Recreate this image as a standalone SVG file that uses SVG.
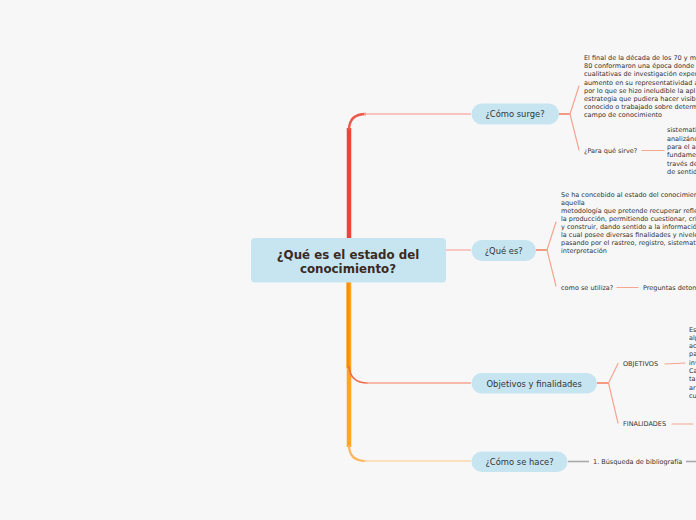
<svg xmlns="http://www.w3.org/2000/svg" width="696" height="520" viewBox="0 0 696 520">
<style>
.bg{fill:#f7f7f7}
.main{fill:#c6e5f1}
.pill{fill:#c6e5f1}
.mt{font-family:"DejaVu Sans",Verdana,sans-serif;font-weight:bold;font-size:11.8px;fill:#3a2a1f;text-anchor:middle}
.st{font-family:"DejaVu Sans",Verdana,sans-serif;font-size:8.4px;fill:#333;text-anchor:middle}
.sm{font-family:"DejaVu Sans",Verdana,sans-serif;font-size:6.5px;fill:#333}
.ln{fill:none;stroke:#f6a591;stroke-width:1.2;stroke-linecap:round}
.stub{fill:none;stroke:#f29a82;stroke-width:2}
.gr{fill:none;stroke:#a9a9a9;stroke-width:1.6}
</style>
<rect class="bg" x="0" y="0" width="696" height="520"/>
<g id="connectors">
  <!-- red stem to ¿Cómo surge? -->
  <path d="M349 238 V128" fill="none" stroke="#e8453c" stroke-width="4.5"/>
  <path d="M349 130 Q349 114 366 114" fill="none" stroke="#ec5a4c" stroke-width="2.5"/>
  <path d="M364 114 H471" fill="none" stroke="#f8b5ab" stroke-width="1.4"/>
  <!-- ¿Qué es? -->
  <path d="M445 250 H471" fill="none" stroke="#f8b5ab" stroke-width="1.4"/>
  <!-- light orange stem to ¿Cómo se hace? -->
  <path d="M349 282 V447" fill="none" stroke="#ffa526" stroke-width="4.5"/>
  <path d="M349 445 Q349 461 366 461" fill="none" stroke="#fdb45a" stroke-width="2.2"/>
  <path d="M364 461 H471" fill="none" stroke="#fcd9aa" stroke-width="1.4"/>
  <!-- dark orange stem to Objetivos -->
  <path d="M348 282 V368" fill="none" stroke="#ff8c00" stroke-width="3"/>
  <path d="M349 366 Q350 383 368 383" fill="none" stroke="#f06a48" stroke-width="1.6"/>
  <path d="M366 383 H471" fill="none" stroke="#f6a591" stroke-width="1.4"/>
  <!-- ¿Cómo surge? children -->
  <path class="stub" d="M559 114 H570"/>
  <path class="ln" d="M570 114 L579 86"/>
  <path class="ln" d="M570 114 L579 150"/>
  <path class="ln" d="M642 150.5 H664"/>
  <!-- ¿Qué es? children -->
  <path class="stub" d="M536 250 H547"/>
  <path class="ln" d="M547 250 L556 222"/>
  <path class="ln" d="M547 250 L556 286"/>
  <path class="ln" d="M617 287.5 H638"/>
  <!-- Objetivos children -->
  <path class="stub" d="M597 383 H608.5"/>
  <path class="ln" d="M608.5 383 L618 363.5"/>
  <path class="ln" d="M608.5 383 L618 423"/>
  <path class="ln" d="M665 364 L685 363"/>
  <path class="ln" d="M672 424 H693"/>
  <!-- ¿Cómo se hace? children -->
  <path class="gr" d="M568 461.5 H589"/>
  <path class="gr" d="M686 461.5 H696"/>
</g>
<g id="central">
  <rect class="main" x="251" y="238" width="195" height="44.5" rx="4"/>
  <text class="mt" x="348" y="258.5">¿Qué es el estado del</text>
  <text class="mt" x="348" y="273">conocimiento?</text>
</g>
<g id="como-surge">
  <rect class="pill" x="471.5" y="103.5" width="87.5" height="21" rx="10.5"/>
  <text class="st" x="515" y="117.2">¿Cómo surge?</text>
</g>
<g id="como-surge-text">
  <text class="sm" x="584" y="60">El final de la década de los 70 y m</text>
  <text class="sm" x="584" y="68.2">80 conformaron una época donde</text>
  <text class="sm" x="584" y="76.4">cualitativas de investigación exper</text>
  <text class="sm" x="584" y="84.6">aumento en su representatividad a</text>
  <text class="sm" x="584" y="92.8">por lo que se hizo ineludible la apl</text>
  <text class="sm" x="584" y="101">estrategia que pudiera hacer visibl</text>
  <text class="sm" x="584" y="109.2">conocido o trabajado sobre determ</text>
  <text class="sm" x="584" y="117.4">campo de conocimiento</text>
</g>
<g id="para-que-sirve">
  <text class="sm" x="584" y="152.6">¿Para qué sirve?</text>
</g>
<g id="para-que-sirve-text">
  <text class="sm" x="667" y="132.3">sistemati</text>
  <text class="sm" x="667" y="140.6">analizánd</text>
  <text class="sm" x="667" y="148.9">para el a</text>
  <text class="sm" x="667" y="157.2">fundame</text>
  <text class="sm" x="667" y="165.5">través de</text>
  <text class="sm" x="667" y="173.8">de sentid</text>
</g>
<g id="que-es">
  <rect class="pill" x="471.5" y="240" width="64.5" height="21" rx="10.5"/>
  <text class="st" x="503.7" y="253.7">¿Qué es?</text>
</g>
<g id="que-es-text">
  <text class="sm" x="561" y="197">Se ha concebido al estado del conocimien</text>
  <text class="sm" x="561" y="205">aquella</text>
  <text class="sm" x="561" y="213">metodología que pretende recuperar refle</text>
  <text class="sm" x="561" y="221">la producción, permitiendo cuestionar, cri</text>
  <text class="sm" x="561" y="229">y construir, dando sentido a la informació</text>
  <text class="sm" x="561" y="237">la cual posee diversas finalidades y nivele</text>
  <text class="sm" x="561" y="245">pasando por el rastreo, registro, sistemat</text>
  <text class="sm" x="561" y="253">interpretación</text>
</g>
<g id="como-se-utiliza">
  <text class="sm" x="561" y="289.6">como se utiliza?</text>
</g>
<g id="preguntas">
  <text class="sm" x="643" y="289.6">Preguntas deton</text>
</g>
<g id="objetivos-finalidades">
  <rect class="pill" x="471.5" y="373" width="125.5" height="20.5" rx="10.25"/>
  <text class="st" x="534.2" y="386.5">Objetivos y finalidades</text>
</g>
<g id="objetivos">
  <text class="sm" x="623" y="365.8">OBJETIVOS</text>
</g>
<g id="objetivos-text">
  <text class="sm" x="689" y="331.5">Es</text>
  <text class="sm" x="689" y="339.8">alp</text>
  <text class="sm" x="689" y="348.1">ac</text>
  <text class="sm" x="689" y="356.4">pa</text>
  <text class="sm" x="689" y="364.7">inv</text>
  <text class="sm" x="689" y="373">Ca</text>
  <text class="sm" x="689" y="381.3">ta</text>
  <text class="sm" x="689" y="389.6">ar</text>
  <text class="sm" x="689" y="397.9">cu</text>
</g>
<g id="finalidades">
  <text class="sm" x="623" y="425.8">FINALIDADES</text>
</g>
<g id="como-se-hace">
  <rect class="pill" x="471.5" y="451.5" width="96" height="20.5" rx="10.25"/>
  <text class="st" x="519.5" y="464.8">¿Cómo se hace?</text>
</g>
<g id="busqueda">
  <text class="sm" x="593" y="464">1. Búsqueda de bibliografía</text>
</g>
</svg>
